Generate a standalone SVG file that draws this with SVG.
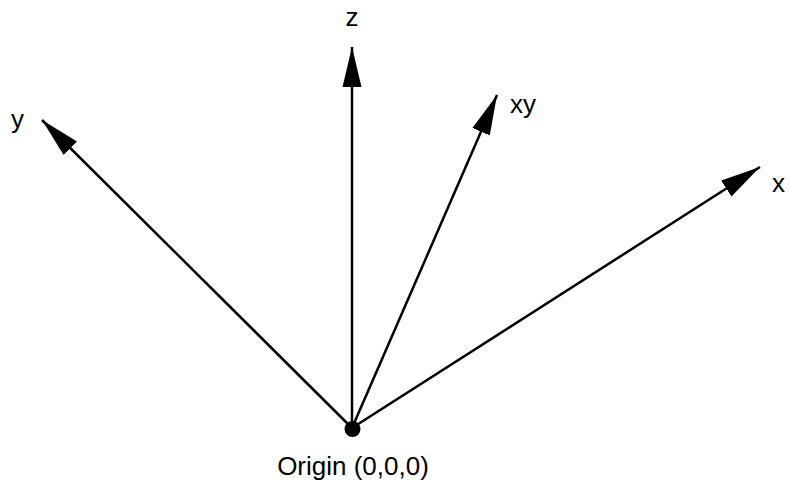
<svg xmlns="http://www.w3.org/2000/svg" width="790" height="487" viewBox="0 0 790 487">
<style>
.ax{stroke:#000;stroke-width:2.5;fill:none}
.lb{font-family:"Liberation Sans",Arial,sans-serif;font-size:26px;fill:#000}
</style>
<defs>
<marker id="ah" markerUnits="userSpaceOnUse" markerWidth="40" markerHeight="20" refX="40" refY="10" orient="auto">
<path d="M0,0.5 L40,10 L0,19.5 Z" fill="#000"/>
</marker>
</defs>
<rect width="790" height="487" fill="#fff"/>
<g id="connectors">
<line class="ax" x1="352" y1="428" x2="352" y2="47" marker-end="url(#ah)"/>
<line class="ax" x1="352" y1="428" x2="42" y2="120" marker-end="url(#ah)"/>
<line class="ax" x1="352" y1="428" x2="497" y2="95" marker-end="url(#ah)"/>
<line class="ax" x1="352" y1="428" x2="760" y2="167" marker-end="url(#ah)"/>
</g>
<g id="origin">
<circle cx="352.5" cy="429" r="8" fill="#000"/>
<text class="lb" x="353" y="475" text-anchor="middle">Origin (0,0,0)</text>
</g>
<g id="z"><text class="lb" x="352" y="26" text-anchor="middle">z</text></g>
<g id="y"><text class="lb" x="11" y="128">y</text></g>
<g id="xy"><text class="lb" x="510" y="113">xy</text></g>
<g id="x"><text class="lb" x="772" y="192">x</text></g>
</svg>
